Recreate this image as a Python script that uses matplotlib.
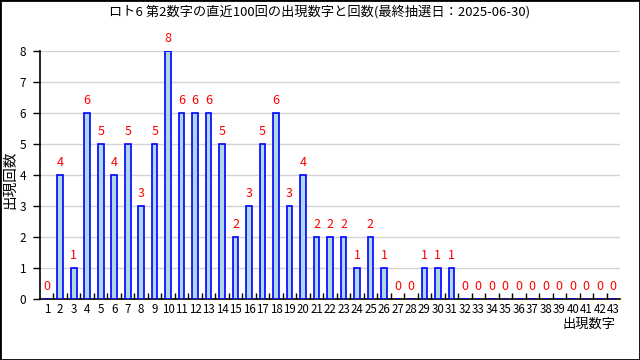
import matplotlib
matplotlib.use("Agg")
import matplotlib.pyplot as plt
from matplotlib.patches import Rectangle

plt.rcParams['font.family'] = ['Noto Sans CJK JP', 'DejaVu Sans']

# data
numbers = list(range(1, 44))
counts = [0, 4, 1, 6, 5, 4, 5, 3, 5, 8,
          6, 6, 6, 5, 2, 3, 5, 6, 3, 4,
          2, 2, 2, 1, 2, 1, 0, 0, 1, 1,
          1, 0, 0, 0, 0, 0, 0, 0, 0, 0,
          0, 0, 0]
title = "ロト6 第2数字の直近100回の出現数字と回数(最終抽選日：2025-06-30)"

fig = plt.figure(figsize=(6.4, 3.6), dpi=100)
ax = fig.add_axes([40 / 640, 1 - 299 / 360, 580 / 640, 248 / 360])

# bars
ax.bar(numbers, counts, width=0.42, color="#add8e6", edgecolor="#0000ff",
       linewidth=1.2, zorder=3)

# value labels
for n, c in zip(numbers, counts):
    ax.text(n, c + 0.2, str(c), color="red", fontsize=9,
            ha="center", va="bottom", zorder=4)

ax.set_xlim(0.5, 43.5)
ax.set_ylim(0, 8)

# y axis: gridlines and outward ticks
ax.set_yticks(range(0, 9))
ax.yaxis.grid(True, color="#d3d3d3", linewidth=1, zorder=0)
ax.tick_params(axis="y", direction="out", length=5, width=1,
               labelsize=8.5, pad=5)

# x axis: labels at centers, short inward ticks at boundaries
ax.set_xticks(numbers)
ax.set_xticklabels([str(n) for n in numbers], fontsize=8.3)
ax.tick_params(axis="x", which="major", length=0, pad=3)
ax.set_xticks([n + 0.5 for n in numbers[:-1]], minor=True)
ax.tick_params(axis="x", which="minor", direction="in", length=4, width=1)

for side in ["top", "right"]:
    ax.spines[side].set_visible(False)
for side in ["left", "bottom"]:
    ax.spines[side].set_color("black")
    ax.spines[side].set_linewidth(1.2)

# labels and title
fig.text(0.5, 1 - 12 / 360, title, fontsize=9.5, ha="center", va="center")
fig.text(616 / 640, 1 - 318 / 360, "出現数字", fontsize=9.5, ha="right", va="top")
fig.text(10 / 640, 1 - 180 / 360, "出現回数", fontsize=10.5, rotation=90,
         ha="center", va="center")

# figure border
fig.patches.append(Rectangle((0, 0), 1, 1, transform=fig.transFigure,
                             fill=False, edgecolor="black", linewidth=2))

fig.savefig("out.png", dpi=100)
